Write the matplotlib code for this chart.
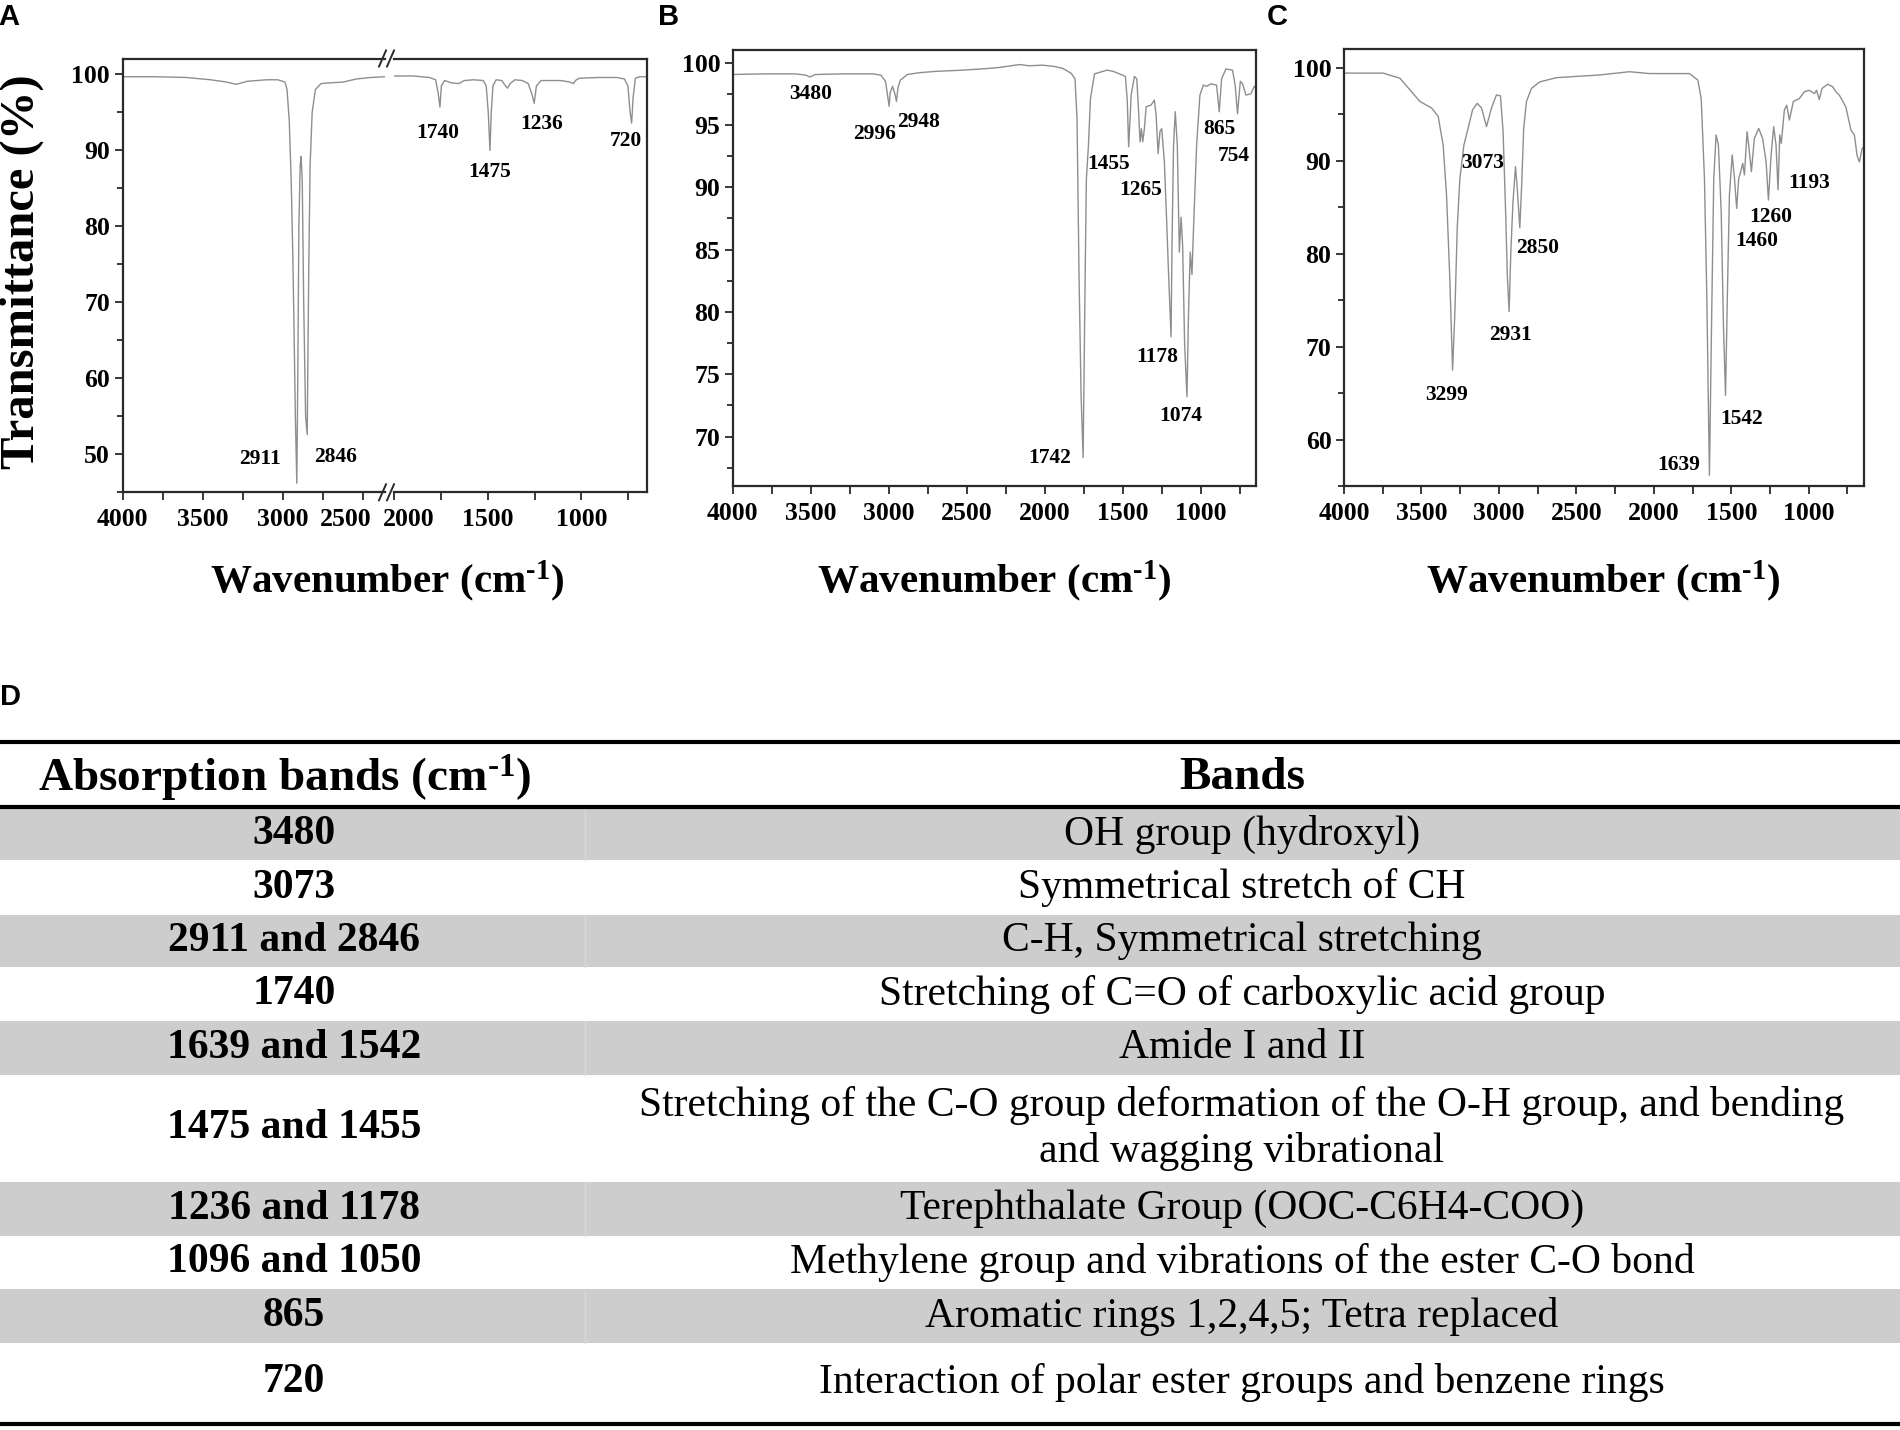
import matplotlib
matplotlib.use("Agg")
import matplotlib.pyplot as plt
import matplotlib.transforms as mtrans
from matplotlib.patches import Rectangle
from matplotlib.ticker import MultipleLocator

plt.rcParams['font.family'] = 'Liberation Serif'
plt.rcParams['font.weight'] = 'bold'
plt.rcParams['mathtext.default'] = 'regular'

# ---------------- spectrum A (broken axis) ----------------
a_left_wn = [4000, 3800, 3600, 3450, 3350, 3290, 3220, 3100, 3030, 2985, 2972, 2958, 2946, 2936,
             2928, 2920, 2911, 2905, 2898, 2890, 2884, 2877, 2868, 2856, 2846, 2842, 2836, 2828,
             2815, 2795, 2760, 2700, 2620, 2540, 2450, 2360]
a_left_t = [99.7, 99.7, 99.6, 99.3, 99.0, 98.7, 99.1, 99.3, 99.3, 99.0, 98.0, 93.8, 86.0, 76.2,
            66.0, 55.0, 46.2, 60.0, 80.0, 88.0, 89.2, 86.0, 70.0, 55.0, 52.6, 62.0, 75.0, 88.0,
            95.0, 98.0, 98.8, 98.9, 99.0, 99.4, 99.6, 99.7]
a_right_wn = [2000, 1900, 1810, 1778, 1764, 1755, 1747, 1730, 1695, 1655, 1625, 1575, 1524, 1508,
              1497, 1488, 1481, 1472, 1455, 1425, 1408, 1394, 1380, 1355, 1315, 1284, 1265, 1252,
              1240, 1215, 1160, 1110, 1062, 1042, 1032, 1012, 910, 810, 770, 752, 740, 732, 724,
              712, 690, 650]
a_right_t = [99.8, 99.8, 99.6, 99.3, 97.5, 95.7, 98.5, 99.2, 98.9, 98.8, 99.2, 99.3, 99.2, 98.5,
             95.0, 90.0, 95.0, 98.5, 99.3, 99.2, 98.6, 98.2, 98.8, 99.3, 99.2, 98.8, 97.5, 96.2,
             98.5, 99.2, 99.2, 99.2, 99.0, 98.8, 99.2, 99.5, 99.6, 99.6, 99.4, 98.5, 95.0, 93.6, 97.0,
             99.5, 99.7, 99.7]
a_left_peaks = ["2911", "2846"]
a_left_peak_xy = [(3142, 49.4), (2670, 49.6)]
a_right_peaks = ["1740", "1475", "1236", "720"]
a_right_peak_xy = [(1766, 92.3), (1492, 87.1), (1212, 93.5), (762, 91.3)]

# ---------------- spectrum B ----------------
b_wn = [4000, 3800, 3600, 3530, 3505, 3470, 3300, 3100, 3050, 3020, 3005, 2997, 2990, 2975, 2960,
        2950, 2940, 2925, 2880, 2800, 2700, 2525, 2400, 2300, 2160, 2100, 2013, 1940, 1885, 1830,
        1805, 1792, 1779, 1766, 1753, 1740, 1732, 1719, 1706, 1680, 1600, 1560, 1520, 1482, 1470,
        1461, 1452, 1445, 1424, 1409, 1397, 1388, 1379, 1371, 1360, 1349, 1317, 1296, 1285, 1272,
        1260, 1249, 1232, 1217, 1204, 1189, 1183, 1173, 1162, 1149, 1136, 1125, 1115, 1102, 1087,
        1077, 1066, 1055, 1045, 1025, 1004, 982, 961, 933, 897, 880, 865, 837, 795, 778, 763, 745,
        730, 709, 677, 656, 645]
b_t = [99.05, 99.1, 99.1, 99.0, 98.85, 99.05, 99.1, 99.1, 99.0, 98.5, 97.2, 96.5, 97.6, 98.1, 97.5,
       96.9, 98.0, 98.6, 99.05, 99.2, 99.3, 99.4, 99.5, 99.6, 99.85, 99.75, 99.8, 99.7, 99.55, 99.15,
       98.7, 95.5, 82.8, 73.3, 68.3, 82.8, 90.7, 93.3, 97.1, 99.1, 99.4, 99.3, 99.1, 98.9, 97.0,
       93.25, 95.5, 97.4, 98.9, 98.7, 96.06, 93.65, 94.7, 93.65, 94.7, 96.46, 96.6, 97.0, 95.8, 92.7,
       94.5, 94.7, 92.05, 87.2, 82.7, 78.0, 85.4, 93.4, 96.06, 93.4, 84.8, 87.6, 85.4, 77.4, 73.2,
       80.0, 84.8, 83.0, 86.7, 93.4, 97.4, 98.2, 98.1, 98.3, 98.2, 96.06, 98.7, 99.5, 99.4, 98.2, 95.9,
       98.5, 98.3, 97.4, 97.5, 98.1, 98.0]
b_peaks = ["3480", "2996", "2948", "1455", "1265", "865", "754", "1178", "1074", "1742"]
b_peak_xy = [(3498, 97.5), (3092, 94.3), (2810, 95.2), (1588, 91.9), (1384, 89.8), (882, 94.7),
             (785, 92.55), (1280, 76.4), (1125, 71.65), (1968, 68.3)]

# ---------------- spectrum C ----------------
c_wn = [4000, 3747, 3639, 3564, 3510, 3435, 3392, 3360, 3338, 3317, 3299, 3284, 3269, 3252, 3226,
        3199, 3170, 3140, 3112, 3080, 3048, 3016, 2990, 2973, 2958, 2945, 2934, 2923, 2909, 2893,
        2883, 2865, 2853, 2840, 2822, 2790, 2737, 2629, 2350, 2156, 2027, 1770, 1716, 1694, 1673,
        1658, 1641, 1626, 1613, 1598, 1583, 1565, 1550, 1537, 1525, 1512, 1494, 1479, 1473, 1465,
        1452, 1439, 1426, 1415, 1398, 1383, 1370, 1351, 1323, 1297, 1275, 1260, 1243, 1226, 1211,
        1198, 1187, 1177, 1157, 1142, 1125, 1099, 1061, 1028, 996, 964, 949, 932, 914, 878, 846, 825,
        803, 760, 727, 705, 688, 673, 656, 645]
c_t = [99.45, 99.45, 98.9, 97.45, 96.4, 95.7, 94.8, 91.7, 86.3, 77.4, 67.5, 73.8, 82.8, 88.1, 91.7,
       93.5, 95.5, 96.2, 95.7, 93.7, 95.7, 97.1, 97.0, 93.15, 85.3, 77.4, 73.8, 80.25, 85.6, 89.4,
       87.4, 82.8, 87.4, 93.5, 96.4, 97.8, 98.5, 98.96, 99.25, 99.6, 99.4, 99.4, 98.7, 96.7, 88.1,
       75.6, 56.2, 73.8, 88.1, 92.8, 91.7, 84.55, 72.0, 64.8, 75.6, 86.3, 90.65, 88.1, 86.7, 84.9,
       88.1, 88.85, 89.75, 88.5, 93.15, 91.0, 88.85, 92.4, 93.5, 92.4, 89.9, 85.8, 90.6, 93.7, 91.7,
       86.9, 92.8, 91.9, 95.5, 96.0, 94.4, 96.4, 96.7, 97.45, 97.6, 97.25, 97.6, 96.6, 97.8, 98.25,
       98.0, 97.45, 97.1, 95.8, 93.3, 92.8, 90.6, 89.9, 91.3, 91.5]
c_peaks = ["3073", "2850", "2931", "3299", "1639", "1542", "1460", "1260", "1193"]
c_peak_xy = [(3103, 89.75), (2752, 80.6), (2923, 71.3), (3340, 64.8), (1841, 57.3), (1433, 62.3),
             (1334, 81.4), (1248, 84.0), (995, 87.6)]

# ---------------- table D ----------------
bands = ["3480", "3073", "2911 and 2846", "1740", "1639 and 1542", "1475 and 1455",
         "1236 and 1178", "1096 and 1050", "865", "720"]
descriptions = ["OH group (hydroxyl)",
                "Symmetrical stretch of CH",
                "C-H, Symmetrical stretching",
                "Stretching of C=O of carboxylic acid group",
                "Amide I and II",
                "Stretching of the C-O group deformation of the O-H group, and bending\nand wagging vibrational",
                "Terephthalate Group (OOC-C6H4-COO)",
                "Methylene group and vibrations of the ester C-O bond",
                "Aromatic rings 1,2,4,5; Tetra replaced",
                "Interaction of polar ester groups and benzene rings"]

# layout (pixels of the 1900x1430 figure)
W, H = 1900, 1430
row_edges = [808.5, 860, 915, 967.3, 1020.7, 1075, 1182, 1236, 1289, 1343, 1422]
line_col = '#8e8e8e'
spine_col = '#2a2a2a'
unit = "(cm$^{\u20101}$)"


def frac(x0, y0, x1, y1):
    return [x0 / W, 1 - y1 / H, (x1 - x0) / W, (y1 - y0) / H]


def style_axes(ax, ymaj, ymin, ylim):
    ax.set_ylim(*ylim)
    ax.xaxis.set_major_locator(MultipleLocator(500))
    ax.xaxis.set_minor_locator(MultipleLocator(250))
    ax.yaxis.set_major_locator(MultipleLocator(ymaj))
    ax.yaxis.set_minor_locator(MultipleLocator(ymin))
    ax.tick_params(axis='both', which='both', direction='out', top=False, right=False,
                   labelsize=18.5, width=1.3, color=spine_col, pad=3)
    ax.tick_params(axis='y', which='major', length=6)
    ax.tick_params(axis='y', which='minor', length=4)
    ax.tick_params(axis='x', which='both', length=6, pad=5)
    for s in ax.spines.values():
        s.set_linewidth(1.6)
        s.set_color(spine_col)


def shift_label(ax, value, dx):
    fig.canvas.draw()
    for t in ax.get_xticklabels():
        if t.get_text() == str(value):
            t.set_transform(t.get_transform() + mtrans.Affine2D().translate(dx, 0))


fig = plt.figure(figsize=(19, 14.3), dpi=100)

# panel A
axA1 = fig.add_axes(frac(122.5, 58.5, 385, 492.3))
axA1.plot(a_left_wn, a_left_t, color=line_col, lw=1.0)
axA1.set_xlim(4000, 2360)
style_axes(axA1, 10, 5, (45, 102.1))
axA1.spines['right'].set_visible(False)
for lab, (x, y) in zip(a_left_peaks, a_left_peak_xy):
    axA1.text(x, y, lab, fontsize=15.5, ha='center', va='center')

axA2 = fig.add_axes(frac(394, 58.5, 647, 492.3))
axA2.plot(a_right_wn, a_right_t, color=line_col, lw=1.0)
axA2.set_xlim(2000, 650)
style_axes(axA2, 10, 5, (45, 102.1))
axA2.spines['left'].set_visible(False)
axA2.tick_params(axis='y', which='both', left=False, labelleft=False)
for lab, (x, y) in zip(a_right_peaks, a_right_peak_xy):
    axA2.text(x, y, lab, fontsize=15.5, ha='center', va='center')

# panel B
axB = fig.add_axes(frac(732.7, 50.2, 1255.9, 486.4))
axB.plot(b_wn, b_t, color=line_col, lw=1.0)
axB.set_xlim(4000, 645)
style_axes(axB, 5, 2.5, (66, 101))
for lab, (x, y) in zip(b_peaks, b_peak_xy):
    axB.text(x, y, lab, fontsize=15.5, ha='center', va='center')

# panel C
axC = fig.add_axes(frac(1344, 49.4, 1863.7, 486.4))
axC.plot(c_wn, c_t, color=line_col, lw=1.0)
axC.set_xlim(4000, 645)
style_axes(axC, 10, 5, (55, 102))
for lab, (x, y) in zip(c_peaks, c_peak_xy):
    axC.text(x, y, lab, fontsize=15.5, ha='center', va='center')

# tick labels either side of the axis break sit apart, as in the original
shift_label(axA1, 2500, -17)
shift_label(axA2, 2000, 15)

# overlay in pixel coordinates: letters, axis titles, break marks, table
ov = fig.add_axes([0, 0, 1, 1])
ov.set_xlim(0, W)
ov.set_ylim(H, 0)
ov.axis('off')
ov.patch.set_alpha(0)
ov.set_zorder(10)

for letter, (x, y) in zip("ABCD", [(9, 17), (669, 17), (1277, 17), (11, 697)]):
    ov.text(x, y, letter, fontsize=21, fontweight='bold', family='Liberation Sans',
            ha='center', va='center')

ov.text(22, 272, "Transmittance (%)", fontsize=35, rotation=90, ha='center', va='center')
for xc in [387, 994, 1603]:
    ov.text(xc, 581, "Wavenumber " + unit, fontsize=29.5, ha='center', va='center')

for yb in [58.5, 492.3]:
    for xs in [379, 387]:
        ov.plot([xs, xs + 7], [yb + 8, yb - 8], color=spine_col, lw=1.4, clip_on=False)

# table
for i in range(len(bands)):
    top, bot = row_edges[i], row_edges[i + 1]
    if i % 2 == 0:
        ov.add_patch(Rectangle((0, top), W, bot - top, facecolor='#cdcdcd', edgecolor='none'))
        ov.plot([585, 585], [top, bot], color='#d8d8d8', lw=1)
    yc = (top + bot) / 2
    ov.text(294, yc, bands[i], fontsize=30, fontweight='bold', ha='center', va='center')
    ov.text(1242, yc, descriptions[i], fontsize=30, fontweight='normal', ha='center',
            va='center', multialignment='center', linespacing=1.25)

ov.text(285, 778, "Absorption bands " + unit, fontsize=34, fontweight='bold',
        ha='center', va='center')
ov.text(1242, 778, "Bands", fontsize=34, fontweight='bold', ha='center', va='center')
for yl in [742, 807, 1424]:
    ov.plot([0, W], [yl, yl], color='black', lw=3, solid_capstyle='butt')

fig.savefig("out.png", dpi=100)
